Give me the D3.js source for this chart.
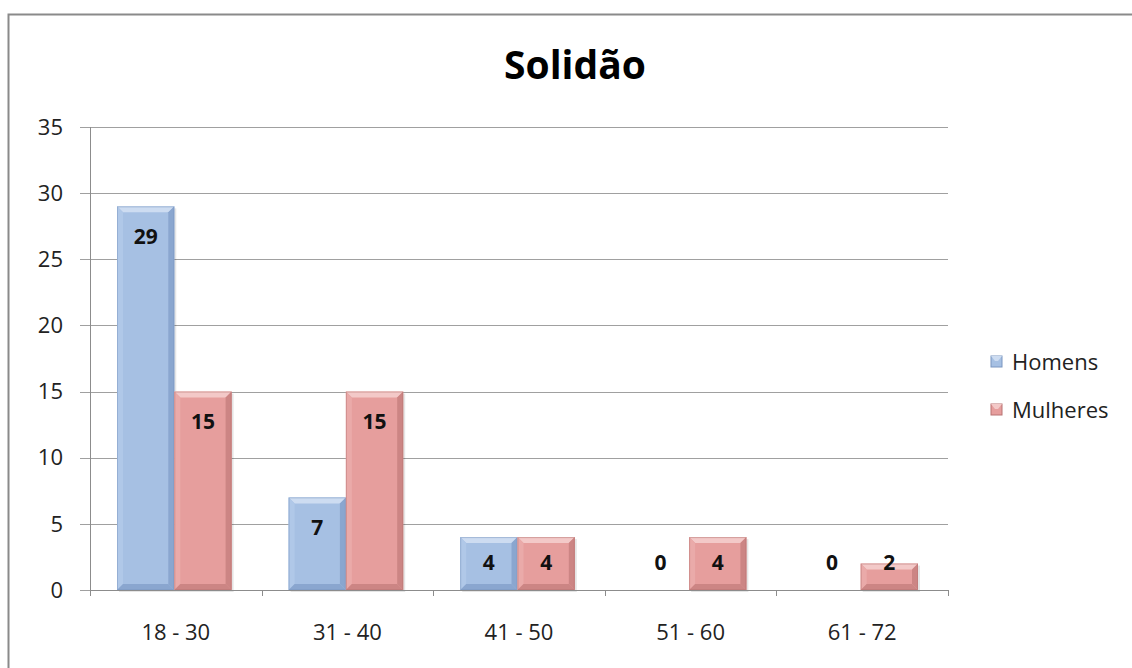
<html>
<head>
<meta charset="utf-8">
<title>Solidão</title>
<script src="https://cdn.jsdelivr.net/npm/d3@7"></script>
<style>
  body { margin: 0; background: #fff; }
  text { font-family: "Open Sans", "Noto Sans", sans-serif; }
</style>
</head>
<body>
<svg id="chart" width="1132" height="668"></svg>
<script>
// data
var categories = ["18 - 30", "31 - 40", "41 - 50", "51 - 60", "61 - 72"];
var seriesNames = ["Homens", "Mulheres"];
var homens = [29, 7, 4, 0, 0];
var mulheres = [15, 15, 4, 4, 2];
var yTicks = [0, 5, 10, 15, 20, 25, 30, 35];

var colors = {
  Homens:   { fill: "#a6c0e3", light: "#cddcf1", left: "#b0c8e8", dark: "#8aa6cf", edge: "#7a96c0" },
  Mulheres: { fill: "#e69e9d", light: "#f3c9c8", left: "#eaaaa9", dark: "#cc8584", edge: "#b87372" }
};

var svg = d3.select("#chart");
var margin = {top: 127, left: 90, right: 184, bottom: 78};
var width = 1132 - margin.left - margin.right,
    height = 668 - margin.top - margin.bottom;

// outer frame
svg.append("rect")
  .attr("x", 8.5).attr("y", 14.5)
  .attr("width", 1140).attr("height", 680)
  .attr("fill", "none").attr("stroke", "#8a8a8a").attr("stroke-width", 2);

svg.append("text")
  .attr("x", 575).attr("y", 79)
  .attr("text-anchor", "middle")
  .style("font-size", "39px").style("font-weight", "bold")
  .text("Solidão");

var g = svg.append("g").attr("transform", "translate(" + margin.left + "," + margin.top + ")");

var x = d3.scaleBand().domain(categories).range([0, width]).paddingInner(0).paddingOuter(0);
var x1 = d3.scaleBand().domain(seriesNames).range([27, x.bandwidth() - 30]).padding(0);
var y = d3.scaleLinear().domain([0, 35]).range([height, 0]);

// gridlines
g.selectAll(".grid").data(yTicks).enter().append("line")
  .attr("x1", -10).attr("x2", width)
  .attr("y1", function(d) { return Math.round(y(d)) + 0.5; })
  .attr("y2", function(d) { return Math.round(y(d)) + 0.5; })
  .attr("stroke", "#a0a0a0").attr("stroke-width", 1);

// y axis line
g.append("line").attr("x1", 0.5).attr("x2", 0.5).attr("y1", 0).attr("y2", height)
  .attr("stroke", "#8c8c8c");

g.selectAll(".ylab").data(yTicks).enter().append("text")
  .attr("x", -27).attr("y", function(d) { return y(d); })
  .attr("dy", "0.35em").attr("text-anchor", "end")
  .style("font-size", "22px").attr("fill", "#222")
  .text(function(d) { return d; });

// x axis ticks
var bounds = [0].concat(categories.map(function(c) { return x(c) + x.bandwidth(); }));
g.selectAll(".xt").data(bounds).enter().append("line")
  .attr("x1", function(d) { return Math.round(d) + 0.5; })
  .attr("x2", function(d) { return Math.round(d) + 0.5; })
  .attr("y1", height).attr("y2", height + 6)
  .attr("stroke", "#8c8c8c");

g.selectAll(".xlab").data(categories).enter().append("text")
  .attr("x", function(d) { return x(d) + x.bandwidth() / 2; })
  .attr("y", height + 50)
  .attr("text-anchor", "middle")
  .style("font-size", "22px").attr("fill", "#222")
  .text(function(d) { return d; });

// bars
var rows = [];
categories.forEach(function(c, i) {
  rows.push({cat: c, s: "Homens", v: homens[i]});
  rows.push({cat: c, s: "Mulheres", v: mulheres[i]});
});

var bev = 6;
rows.forEach(function(r) {
  var x0 = x(r.cat) + x1(r.s), w = x1.bandwidth();
  var yt = y(r.v), yb = y(0), h = yb - yt;
  var c = colors[r.s];
  if (h > 0) {
    var bg = g.append("g");
    bg.append("rect").attr("x", x0 + 2).attr("y", yt + 2).attr("width", w).attr("height", h)
      .attr("fill", "#000").attr("opacity", 0.1);
    bg.append("rect").attr("x", x0).attr("y", yt).attr("width", w).attr("height", h)
      .attr("fill", c.fill);
    var b = Math.min(bev, h / 2);
    // top bevel
    bg.append("polygon").attr("points", [[x0, yt], [x0 + w, yt], [x0 + w - b, yt + b], [x0 + b, yt + b]].join(" "))
      .attr("fill", c.light);
    // left bevel
    bg.append("polygon").attr("points", [[x0, yt], [x0 + b, yt + b], [x0 + b, yb - b], [x0, yb]].join(" "))
      .attr("fill", c.left);
    // right bevel
    bg.append("polygon").attr("points", [[x0 + w, yt], [x0 + w - b, yt + b], [x0 + w - b, yb - b], [x0 + w, yb]].join(" "))
      .attr("fill", c.dark);
    // bottom bevel
    bg.append("polygon").attr("points", [[x0, yb], [x0 + b, yb - b], [x0 + w - b, yb - b], [x0 + w, yb]].join(" "))
      .attr("fill", c.dark);
    bg.append("rect").attr("x", x0 + 0.5).attr("y", yt + 0.5).attr("width", w - 1).attr("height", h - 1)
      .attr("fill", "none").attr("stroke", c.edge).attr("stroke-opacity", 0.5);
  }
  g.append("text")
    .attr("x", x0 + w / 2)
    .attr("y", Math.min(yt + 30, yb - 27))
    .attr("dy", "0.35em").attr("text-anchor", "middle")
    .style("font-size", "21px").style("font-weight", "bold").attr("fill", "#111")
    .text(r.v);
});

// x axis line on top of bars
g.append("line").attr("x1", 0).attr("x2", width + 1)
  .attr("y1", height + 0.5).attr("y2", height + 0.5).attr("stroke", "#8c8c8c");

// legend
var leg = svg.append("g").attr("transform", "translate(991,362)");
seriesNames.forEach(function(s, i) {
  var c = colors[s];
  var lg = leg.append("g").attr("transform", "translate(0," + (i * 48) + ")");
  lg.append("rect").attr("x", 0).attr("y", -6).attr("width", 11).attr("height", 11)
    .attr("fill", c.fill).attr("stroke", c.edge);
  lg.append("polygon").attr("points", "0,-6 11,-6 7,-1 4,-1").attr("fill", c.light);
  lg.append("text").attr("x", 21).attr("y", 0).attr("dy", "0.35em")
    .style("font-size", "22px").attr("fill", "#222").text(s);
});
</script>
</body>
</html>
